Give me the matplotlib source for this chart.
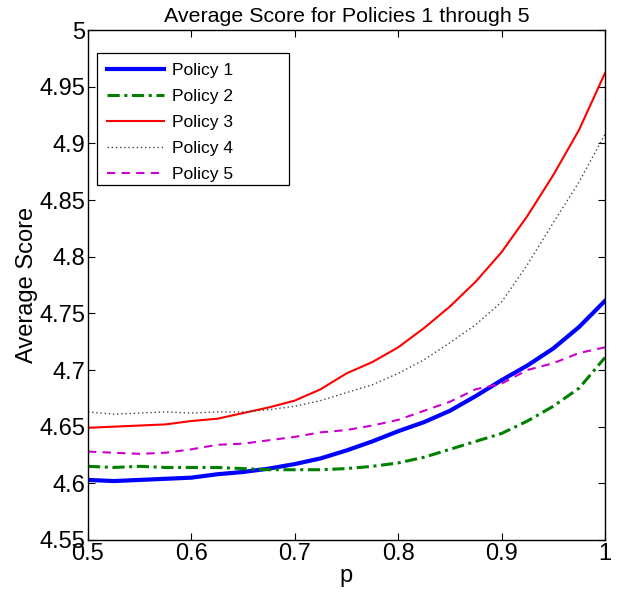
import numpy as np
from matplotlib import pyplot as plt
from matplotlib.patches import Rectangle

plt.rcParams["font.family"] = ["Liberation Sans", "DejaVu Sans"]

# values, p = 0.5 .. 1.0 step 0.025
p = [0.5, 0.525, 0.55, 0.575, 0.6, 0.625, 0.65, 0.675, 0.7, 0.725, 0.75,
     0.775, 0.8, 0.825, 0.85, 0.875, 0.9, 0.925, 0.95, 0.975, 1.0]

policy1 = [4.603, 4.602, 4.603, 4.604, 4.605, 4.608, 4.610, 4.613, 4.617, 4.622, 4.629,
           4.637, 4.646, 4.654, 4.664, 4.677, 4.691, 4.704, 4.719, 4.738, 4.761]
policy2 = [4.615, 4.614, 4.615, 4.614, 4.614, 4.614, 4.613, 4.612, 4.612, 4.612, 4.613,
           4.615, 4.618, 4.623, 4.630, 4.637, 4.644, 4.655, 4.668, 4.684, 4.711]
policy3 = [4.649, 4.650, 4.651, 4.652, 4.655, 4.657, 4.662, 4.667, 4.673, 4.683, 4.697,
           4.707, 4.720, 4.737, 4.756, 4.778, 4.804, 4.836, 4.872, 4.912, 4.962]
policy4 = [4.663, 4.661, 4.662, 4.663, 4.662, 4.663, 4.663, 4.665, 4.668, 4.673, 4.680,
           4.687, 4.697, 4.709, 4.724, 4.740, 4.760, 4.793, 4.830, 4.866, 4.908]
policy5 = [4.628, 4.627, 4.626, 4.627, 4.630, 4.634, 4.635, 4.638, 4.641, 4.645, 4.647,
           4.651, 4.656, 4.664, 4.672, 4.683, 4.688, 4.700, 4.706, 4.715, 4.720]

labels = ["Policy 1", "Policy 2", "Policy 3", "Policy 4", "Policy 5"]
xticks = [0.5, 0.6, 0.7, 0.8, 0.9, 1.0]
xtick_labels = ["0.5", "0.6", "0.7", "0.8", "0.9", "1"]
yticks = [4.55, 4.6, 4.65, 4.7, 4.75, 4.8, 4.85, 4.9, 4.95, 5.0]
ytick_labels = ["4.55", "4.6", "4.65", "4.7", "4.75", "4.8", "4.85", "4.9", "4.95", "5"]

fig = plt.figure(figsize=(6.21, 5.97), dpi=100)
ax = fig.add_axes([0.1417, 0.0955, 0.8325, 0.8542])

ax.plot(p, policy1, color="#0000ff", lw=3.0, label=labels[0])
ax.plot(p, policy2, color="#008000", lw=2.2, linestyle=(0, (4, 1.5, 1, 1.5)), label=labels[1])
ax.plot(p, policy3, color="#ff0000", lw=1.5, label=labels[2])
ax.plot(p, policy4, color="#444444", lw=1.0, linestyle=(0, (1, 2)), label=labels[3])
ax.plot(p, policy5, color="#cc00cc", lw=1.5, linestyle=(0, (4, 3)), label=labels[4])

ax.set_xlim(0.5, 1.0)
ax.set_ylim(4.55, 5.0)
ax.set_xticks(xticks)
ax.set_xticklabels(xtick_labels)
ax.set_yticks(yticks)
ax.set_yticklabels(ytick_labels)
ax.tick_params(direction="in", top=True, right=True, labelsize=17, length=5, width=0.8, pad=2)
for s in ax.spines.values():
    s.set_linewidth(1.0)

ax.set_xlabel("p", fontsize=17, labelpad=0)
ax.set_ylabel("Average Score", fontsize=17, labelpad=1)
ax.set_title("Average Score for Policies 1 through 5", fontsize=15.4, pad=6)

# legend entries without frame, box drawn separately (MATLAB-style wide box)
ax.legend(loc="upper left", bbox_to_anchor=(0.0368, 0.936), fontsize=12.5,
          frameon=False, handlelength=3.28, borderpad=0, borderaxespad=0,
          labelspacing=0.63, handletextpad=0.46)
ax.add_patch(Rectangle((0.0174, 0.696), 0.3714, 0.259, transform=ax.transAxes,
                       fill=True, facecolor="white", edgecolor="black", lw=0.9, zorder=4))
ax.get_legend().set_zorder(5)

fig.savefig("out.png", dpi=100)
